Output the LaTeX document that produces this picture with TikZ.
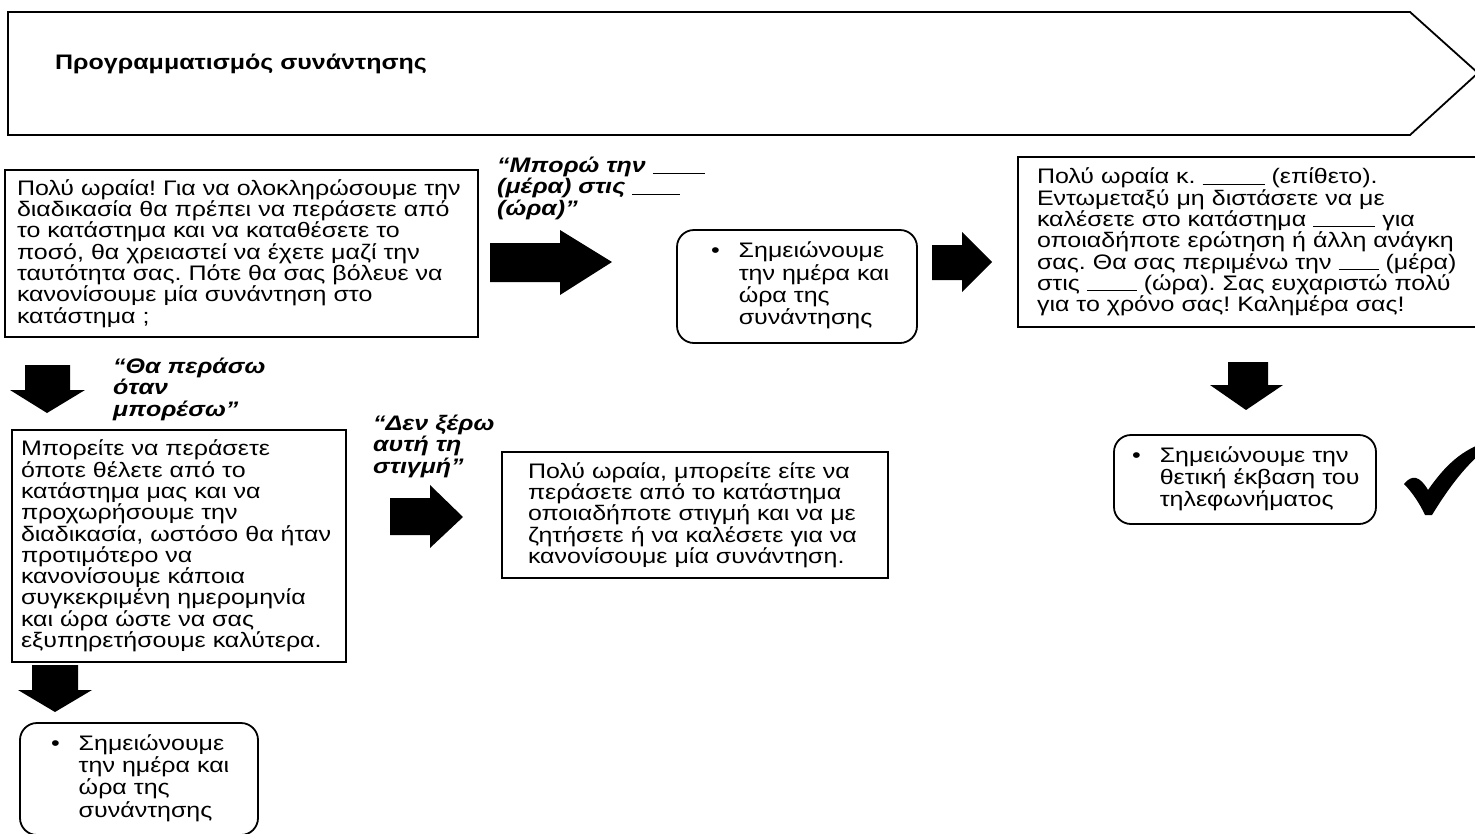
\documentclass[tikz,border=0pt]{standalone}
\usepackage{fontspec}
\setmainfont{Liberation Sans}[FakeStretch=1.19]
\frenchspacing
\newcommand{\blank}[1]{\rule[-1pt]{#1}{1.1pt}}
\newcommand{\bulletlines}[1]{\begin{tabular}{@{}l@{\hspace{19pt}}l@{}}#1\end{tabular}}
\begin{document}
\begin{tikzpicture}[x=1pt,y=-1pt,
  every node/.style={font=\fontsize{21}{21.3}\selectfont},
  textbox/.style={draw=black,line width=1.8pt,align=left,inner ysep=0pt},
  notebox/.style={draw=black,line width=1.8pt,rounded corners=17pt,align=left,inner ysep=0pt},
  quote/.style={anchor=north west,align=left,inner sep=0pt,
    font=\fontsize{21}{21.3}\selectfont\bfseries\itshape},
  banner/.style={draw=black,line width=1.8pt},
  blockarrow/.style={fill=black},
  tick/.style={fill=black}]
\useasboundingbox (0,0) rectangle (1475,833);

% heading banner
\draw[banner] (8,12) -- (1410,12) -- (1478,73) -- (1410,135) -- (8,135) -- cycle;
\node[anchor=west,inner sep=0pt,font=\fontsize{21}{21.3}\selectfont\bfseries] (title) at (55,64) {Προγραμματισμός συνάντησης};

% opening question
\node[textbox,minimum width=473pt,minimum height=167pt,text width=449pt] (ask) at (241.5,253.5)
{Πολύ ωραία! Για να ολοκληρώσουμε την\\
διαδικασία θα πρέπει να περάσετε από\\
το κατάστημα και να καταθέσετε το\\
ποσό, θα χρειαστεί να έχετε μαζί την\\
ταυτότητα σας. Πότε θα σας βόλευε να\\
κανονίσουμε μία συνάντηση στο\\
κατάστημα ;};

% answer: a day and an hour
\node[quote] (q1) at (497,157)
{“Μπορώ την \blank{52pt}\\
(μέρα) στις \blank{48pt}\\
(ώρα)”};
\fill[blockarrow] (490,243) -- (560,243) -- (560,230) -- (612,262) -- (560,295) -- (560,282) -- (490,282) -- cycle;

\node[notebox,minimum width=240pt,minimum height=113pt,text width=172pt] (note1) at (797,286.5)
{\bulletlines{•&Σημειώνουμε\\&την ημέρα και\\&ώρα της\\&συνάντησης}};
\fill[blockarrow] (932,245) -- (962,245) -- (962,232) -- (992,262) -- (962,292) -- (962,280) -- (932,280) -- cycle;

\node[textbox,minimum width=480pt,minimum height=170pt,text width=442pt] (confirm) at (1258,242)
{Πολύ ωραία κ. \blank{62pt} (επίθετο).\\
Εντωμεταξύ μη διστάσετε να με\\
καλέσετε στο κατάστημα \blank{62pt} για\\
οποιαδήποτε ερώτηση ή άλλη ανάγκη\\
σας. Θα σας περιμένω την \blank{40pt} (μέρα)\\
στις \blank{50pt} (ώρα). Σας ευχαριστώ πολύ\\
για το χρόνο σας! Καλημέρα σας!};

\fill[blockarrow] (1228,362) -- (1268,362) -- (1268,385) -- (1283,385) -- (1246,410) -- (1210,385) -- (1228,385) -- cycle;
\node[notebox,minimum width=262pt,minimum height=89pt,text width=226pt] (note2) at (1245,479.5)
{\bulletlines{•&Σημειώνουμε την\\&θετική έκβαση του\\&τηλεφωνήματος}};
\fill[tick] (1404,484) .. controls (1412,474) and (1420,476) .. (1428,490)
  .. controls (1442,470) and (1456,455) .. (1476,446) -- (1478,456)
  .. controls (1462,470) and (1446,492) .. (1432,515) -- (1425,515)
  .. controls (1420,504) and (1412,492) .. cycle;

% answer: whenever possible
\fill[blockarrow] (25,365) -- (70,365) -- (70,390) -- (85,390) -- (47,413) -- (10,390) -- (25,390) -- cycle;
\node[quote] (q2) at (113,358)
{“Θα περάσω\\όταν\\μπορέσω”};
\node[textbox,minimum width=334pt,minimum height=232pt,text width=316pt] (visit) at (179,546)
{Μπορείτε να περάσετε\\
όποτε θέλετε από το\\
κατάστημα μας και να\\
προχωρήσουμε την\\
διαδικασία, ωστόσο θα ήταν\\
προτιμότερο να\\
κανονίσουμε κάποια\\
συγκεκριμένη ημερομηνία\\
και ώρα ώστε να σας\\
εξυπηρετήσουμε καλύτερα.};
\fill[blockarrow] (32,665) -- (78,665) -- (78,690) -- (92,690) -- (55,712) -- (18,690) -- (32,690) -- cycle;
\node[notebox,minimum width=238pt,minimum height=112pt,text width=176pt] (note3) at (139,779)
{\bulletlines{•&Σημειώνουμε\\&την ημέρα και\\&ώρα της\\&συνάντησης}};

% answer: not sure yet
\node[quote] (q3) at (373,415)
{“Δεν ξέρω\\αυτή τη\\στιγμή”};
\fill[blockarrow] (390,498) -- (430,498) -- (430,485) -- (463,517) -- (430,548) -- (430,535) -- (390,535) -- cycle;
\node[textbox,minimum width=386pt,minimum height=126pt,text width=334pt] (later) at (695,515)
{Πολύ ωραία, μπορείτε είτε να\\
περάσετε από το κατάστημα\\
οποιαδήποτε στιγμή και να με\\
ζητήσετε ή να καλέσετε για να\\
κανονίσουμε μία συνάντηση.};
\end{tikzpicture}
\end{document}
